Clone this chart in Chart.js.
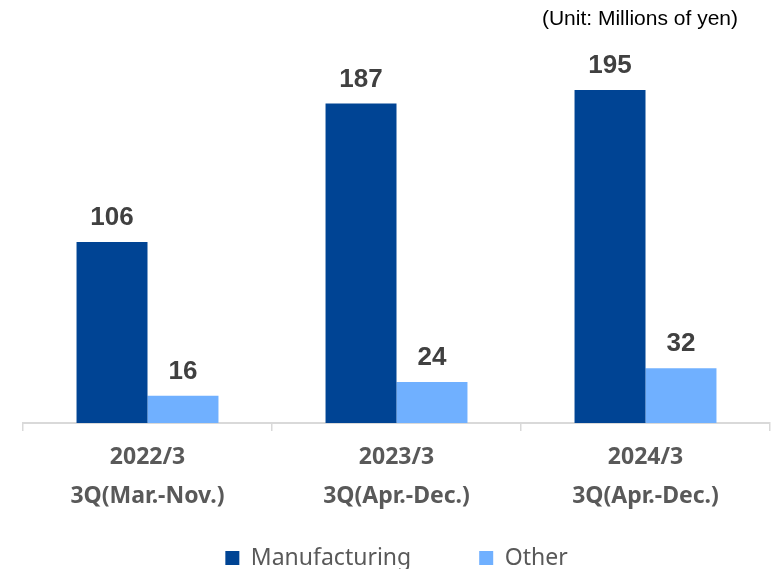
<!DOCTYPE html>
<html>
<head>
<meta charset="utf-8">
<script src="https://cdn.jsdelivr.net/npm/chart.js@4"></script>
<style>
  html, body { margin: 0; padding: 0; background: #ffffff; }
  #wrap { width: 773px; height: 569px; position: relative; }
</style>
</head>
<body>
<div id="wrap"><canvas id="c"></canvas></div>
<script>
const periods = [["2022/3", "3Q(Mar.-Nov.)"], ["2023/3", "3Q(Apr.-Dec.)"], ["2024/3", "3Q(Apr.-Dec.)"]];
const seriesNames = ["Manufacturing", "Other"];
const manufacturing = [106, 187, 195];
const other = [16, 24, 32];
const unitText = "(Unit: Millions of yen)";

const valueLabels = {
  id: 'valueLabels',
  afterDatasetsDraw(chart) {
    const ctx = chart.ctx;
    ctx.save();
    ctx.font = 'bold 26px "Liberation Sans", Arial, sans-serif';
    ctx.fillStyle = '#404040';
    ctx.textAlign = 'center';
    ctx.textBaseline = 'alphabetic';
    chart.data.datasets.forEach((ds, di) => {
      const meta = chart.getDatasetMeta(di);
      meta.data.forEach((bar, i) => {
        ctx.fillText(String(ds.data[i]), bar.x, bar.y - 17);
      });
    });
    ctx.restore();
  }
};

const unitLabel = {
  id: 'unitLabel',
  afterDraw(chart) {
    const ctx = chart.ctx;
    ctx.save();
    ctx.font = '21px "Liberation Sans", Arial, sans-serif';
    ctx.fillStyle = '#000000';
    ctx.textAlign = 'right';
    ctx.textBaseline = 'alphabetic';
    ctx.fillText(unitText, 738, 25);
    ctx.restore();
  }
};

new Chart(document.getElementById('c'), {
  type: 'bar',
  data: {
    labels: periods,
    datasets: [
      { label: seriesNames[0], data: manufacturing, backgroundColor: '#004494', borderWidth: 0 },
      { label: seriesNames[1], data: other, backgroundColor: '#70b0ff', borderWidth: 0 }
    ]
  },
  options: {
    responsive: true,
    maintainAspectRatio: false,
    animation: false,
    layout: { padding: { top: 13, left: 23, right: 3, bottom: -10.5 } },
    datasets: { bar: { categoryPercentage: 0.57, barPercentage: 1.0 } },
    scales: {
      x: {
        offset: true,
        grid: { display: true, drawOnChartArea: false, drawTicks: true, tickLength: 8, color: '#d9d9d9', lineWidth: 1.5 },
        border: { display: true, color: '#d9d9d9', width: 2 },
        ticks: {
          color: '#595959',
          padding: 7,
          maxRotation: 0,
          font: { family: '"Noto Sans", sans-serif', size: 23, weight: 'bold', lineHeight: '39px' }
        },
        afterFit(scale) {
          scale.height = 55.5;
          // let the two-line labels extend below the (short) axis box
          scale._computeLabelArea = function () { return undefined; };
        }
      },
      y: { display: false, min: 0, max: 240 }
    },
    plugins: {
      legend: {
        position: 'bottom',
        labels: {
          boxWidth: 14,
          boxHeight: 14,
          padding: 68,
          color: '#595959',
          font: { family: '"Noto Sans", sans-serif', size: 23 }
        }
      },
      tooltip: { enabled: false }
    }
  },
  plugins: [valueLabels, unitLabel]
});
</script>
</body>
</html>
